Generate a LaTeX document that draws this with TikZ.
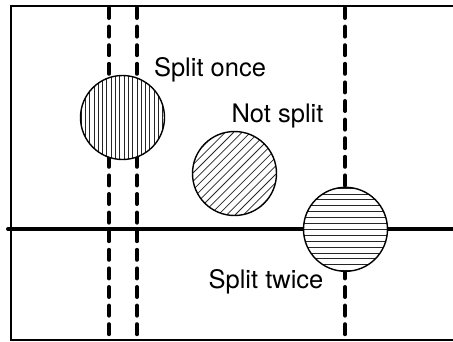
\documentclass[tikz,border=0pt]{standalone}
\usepackage{fontspec}
\setmainfont{TeX Gyre Heros}
\tikzset{
  frameline/.style={line width=2.6pt, line cap=butt},
  axisline/.style={line width=4pt, line cap=round},
  cutline/.style={line width=4pt, line cap=round, dash pattern=on 10pt off 8.6pt},
  ball/.style={line width=1.4pt, fill=white},
  hatch/.style={line width=0.75pt, black!85},
  lbl/.style={anchor=base, inner sep=0pt, font=\fontsize{25.5}{30}\selectfont}
}
\begin{document}
\begin{tikzpicture}[x=1pt,y=-1pt]
\useasboundingbox (0,0) rectangle (453,341);
% frame
\draw[frameline] (458,6) -- (11,6) -- (11,339.8) -- (458,339.8);
% horizontal axis
\draw[axisline] (8,229) -- (460,229);
% vertical cut lines
\coordinate (v1t) at (109,8); \coordinate (v1b) at (109,338);
\coordinate (v2t) at (137,8); \coordinate (v2b) at (137,338);
\coordinate (v3t) at (345,8); \coordinate (v3b) at (345,338);
\draw[cutline] (v1t) -- (v1b);
\draw[cutline] (v2t) -- (v2b);
\draw[cutline] (v3t) -- (v3b);
% circles
\coordinate (c1) at (122.5,117.5);
\coordinate (c2) at (234.5,173.5);
\coordinate (c3) at (345.5,229.3);
% circle 1: vertical hatch
\fill[white] (c1) circle[radius=42pt];
\begin{scope}[shift={(c1)}]
  \clip (0,0) circle[radius=42pt];
  \foreach \i in {-10,...,10} \draw[hatch] (\i*4.3+1.5,-45) -- (\i*4.3+1.5,45);
\end{scope}
\draw[line width=1.4pt] (c1) circle[radius=42pt];
% circle 2: diagonal hatch
\fill[white] (c2) circle[radius=42pt];
\begin{scope}[shift={(c2)}]
  \clip (0,0) circle[radius=42pt];
  \foreach \i in {-8,...,8} \draw[hatch] (\i*8.4-50,50) -- (\i*8.4+50,-50);
\end{scope}
\draw[line width=1.4pt] (c2) circle[radius=42pt];
% circle 3: horizontal hatch
\fill[white] (c3) circle[radius=42pt];
\begin{scope}[shift={(c3)}]
  \clip (0,0) circle[radius=42pt];
  \foreach \i in {-8,...,8} \draw[hatch] (-45,\i*5.9) -- (45,\i*5.9);
\end{scope}
\draw[line width=1.4pt] (c3) circle[radius=42pt];
% labels
\node[lbl] (l1) at (210,76) {Split once};
\node[lbl] (l2) at (277.5,122) {Not split};
\node[lbl] (l3) at (266,288) {Split twice};
\end{tikzpicture}
\end{document}
